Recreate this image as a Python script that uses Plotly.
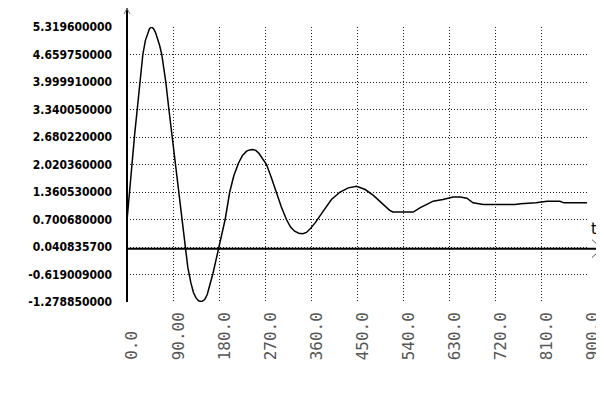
import plotly.graph_objects as go

# ---- data ----
t_vals = [0, 5, 9, 15, 20, 25, 31, 36, 40, 44, 48, 52, 56, 60, 64, 68, 72, 76, 82, 86,
          90, 95, 100, 106, 113, 119, 125, 130, 135, 140, 146, 152, 157, 162, 168, 174,
          180, 186, 192, 201, 209, 218, 226, 234, 240, 246, 252, 258, 266, 273, 282, 292,
          302, 312, 320, 328, 336, 344, 351, 358, 368, 384, 400, 417, 433, 449, 466, 482,
          498, 514, 520, 560, 573, 589, 599, 618, 638, 652, 665, 677, 697, 759, 770, 800,
          822, 847, 855, 900]
y_vals = [0.68, 1.42, 2.02, 2.75, 3.34, 3.95, 4.66, 5.00, 5.17, 5.28, 5.32, 5.28, 5.18,
          5.04, 4.87, 4.66, 4.35, 3.99, 3.34, 2.92, 2.48, 1.94, 1.40, 0.76, 0.04, -0.45,
          -0.82, -1.05, -1.18, -1.25, -1.27, -1.22, -1.10, -0.90, -0.60, -0.28, 0.04, 0.38,
          0.70, 1.36, 1.75, 2.05, 2.24, 2.34, 2.37, 2.38, 2.36, 2.29, 2.15, 2.02, 1.72,
          1.36, 1.00, 0.70, 0.52, 0.42, 0.37, 0.36, 0.39, 0.47, 0.62, 0.90, 1.18, 1.36,
          1.46, 1.50, 1.42, 1.28, 1.10, 0.92, 0.88, 0.88, 0.98, 1.08, 1.14, 1.18, 1.24,
          1.24, 1.21, 1.10, 1.06, 1.06, 1.08, 1.10, 1.14, 1.14, 1.10, 1.10]

y_ticks = [-1.27885, -0.619009, 0.0408357, 0.70068, 1.36053, 2.02036, 2.68022,
           3.34005, 3.99991, 4.65975, 5.3196]
y_tick_text = ["-1.278850000", "-0.619009000", "0.040835700", "0.700680000",
               "1.360530000", "2.020360000", "2.680220000", "3.340050000",
               "3.999910000", "4.659750000", "5.319600000"]
x_ticks = [0, 90, 180, 270, 360, 450, 540, 630, 720, 810, 900]
x_tick_text = ["0.0", "90.00", "180.0", "270.0", "360.0", "450.0", "540.0",
               "630.0", "720.0", "810.0", "900.0"]

# ---- layout geometry (pixels); page has an 8px body margin ----
OFF = 8
W, H = 604, 406
L, R, T, B = 119, 25, 16, 112
PW, PH = W - L - R, H - T - B


def px(x):  # page pixel -> paper x
    return (x - OFF - L) / PW


def py(y):  # page pixel -> paper y
    return (H - B - (y - OFF)) / PH


fig = go.Figure()
fig.add_trace(go.Scatter(x=t_vals, y=y_vals, mode="lines",
                         line=dict(color="black", width=1.5), hoverinfo="skip"))

grid = dict(showgrid=True, gridcolor="#222", gridwidth=1, griddash="1px,2px",
            zeroline=False, showline=False, ticks="")

fig.update_xaxes(range=[0, 900], tickvals=x_ticks, showticklabels=False, **grid)
fig.update_yaxes(range=[y_ticks[0], y_ticks[-1]], tickvals=y_ticks, ticktext=y_tick_text,
                 tickfont=dict(family="DejaVu Sans Condensed", size=12, color="black",
                               weight="bold"),
                 ticklabelstandoff=14, **grid)

# x tick labels rotated, bottom aligned
for xv, txt in zip(x_ticks, x_tick_text):
    fig.add_annotation(x=xv, xref="x", y=py(363), yref="paper", text=txt,
                       textangle=-90, showarrow=False, xanchor="center", yanchor="bottom",
                       xshift=5, font=dict(family="DejaVu Sans Mono", size=16, color="#555"))

# axes lines
fig.add_shape(type="line", xref="paper", yref="paper", x0=0, x1=0, y0=py(302), y1=py(5),
              line=dict(color="black", width=2))
fig.add_shape(type="line", xref="paper", yref="y", x0=0, x1=px(601), y0=0, y1=0,
              line=dict(color="black", width=2))
# x arrow head
fig.add_shape(type="path", xref="paper", yref="paper",
              path=f"M {px(592)} {py(239)} L {px(602)} {py(248)} L {px(592)} {py(257)}",
              line=dict(color="#555", width=1))
# y arrow head
fig.add_shape(type="path", xref="paper", yref="paper",
              path=f"M {px(124)} {py(11)} L {px(127)} {py(5)} L {px(130)} {py(11)}",
              line=dict(color="#777", width=1))
fig.add_annotation(x=px(594), y=py(228), xref="paper", yref="paper", text="t",
                   showarrow=False, xanchor="center", yanchor="middle",
                   font=dict(family="DejaVu Sans", size=15, color="black"))

fig.update_layout(width=W, height=H, margin=dict(l=L, r=R, t=T, b=B),
                  paper_bgcolor="white", plot_bgcolor="white", showlegend=False)

fig.write_html("out.html")
